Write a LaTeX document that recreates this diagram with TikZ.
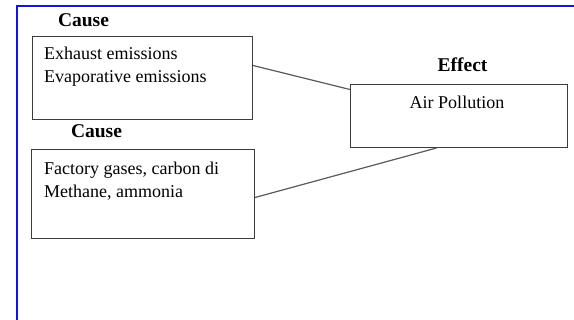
\documentclass[tikz,border=0pt]{standalone}
\usepackage{fontspec}
\setmainfont{Liberation Serif}
\definecolor{framecol}{RGB}{20,20,225}
\definecolor{boxcol}{RGB}{60,60,60}
\definecolor{linkcol}{RGB}{90,90,90}

\tikzstyle{box}=[draw=boxcol, line width=1pt, anchor=north west, inner sep=0pt]
\tikzstyle{txt}=[anchor=north west, inner sep=0pt, align=left, font=\fontsize{18}{23}\selectfont]
\tikzstyle{heading}=[anchor=base, inner sep=0pt, font=\fontsize{19.5}{23}\selectfont\bfseries]
\tikzstyle{link}=[draw=linkcol, line width=1.2pt]
\tikzstyle{frame}=[draw=framecol, line width=2pt]

\begin{document}
\begin{tikzpicture}[x=1pt, y=-1pt]
      \useasboundingbox (0, 0) rectangle (574, 320);
      \draw[frame] (16.5, 321) -- (16.5, 6.5) -- (575, 6.5);

      \node[box, minimum width=220pt, minimum height=83pt] (cause1) at (32, 36) {};
      \node[box, minimum width=223pt, minimum height=89pt] (cause2) at (31, 149) {};
      \node[box, minimum width=217pt, minimum height=63pt] (effect) at (350, 84) {};

      \node[heading] (causelabel1) at (83.5, 27) {Cause};
      \node[heading] (causelabel2) at (96.5, 138) {Cause};
      \node[heading] (effectlabel) at (462.5, 72) {Effect};

      \node[txt] (causetext1) at (44, 46.7) {Exhaust emissions\\Evaporative emissions};
      \node[txt] (causetext2) at (44, 161.7) {Factory gases, carbon di\\Methane, ammonia};
      \node[txt, anchor=base] (effecttext) at (457, 109) {Air Pollution};

      \draw[link] ([yshift=12.5pt]cause1.east) to ([yshift=26.5pt]effect.west);
      \draw[link] ([yshift=-3.5pt]cause2.east) to ([xshift=-22.5pt]effect.south);
    \end{tikzpicture}
\end{document}
